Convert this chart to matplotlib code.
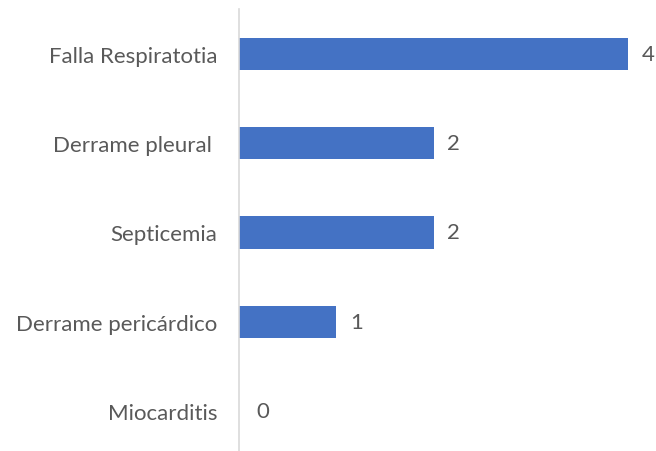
import matplotlib
matplotlib.use("Agg")
import matplotlib.pyplot as plt

categories = ["Miocarditis", "Derrame pericárdico", "Septicemia", "Derrame pleural ", "Falla Respiratotia"]
values = [0, 1, 2, 2, 4]

W, H = 656, 452
fig = plt.figure(figsize=(W/100, H/100), dpi=100)
ax = fig.add_axes([239/W, 0, (W-239)/W, (452-10)/H])

bar_color = "#4472C4"
text_color = "#595959"
font = ["Lato", "DejaVu Sans"]
fs = 16

ax.barh(range(len(categories)), values, height=0.36, color=bar_color)
ax.set_ylim(-0.448, 4.504)
ax.set_xlim(0, (W-239)/97.25)

ax.set_yticks(range(len(categories)))
ax.set_yticklabels(categories, fontsize=fs, color=text_color, family=font)
ax.tick_params(axis="y", length=0, pad=15.5)
ax.set_xticks([])
for s in ["top", "right", "bottom"]:
    ax.spines[s].set_visible(False)
ax.spines["left"].set_color("#D9D9D9")
ax.spines["left"].set_linewidth(1.2)

for i, v in enumerate(values):
    off = 17 if v == 0 else 14
    ax.annotate(str(v), (v, i), xytext=(off, 0), textcoords="offset pixels",
                ha="left", va="center", fontsize=fs, color=text_color, family=font)

fig.savefig("out.png", dpi=100)
